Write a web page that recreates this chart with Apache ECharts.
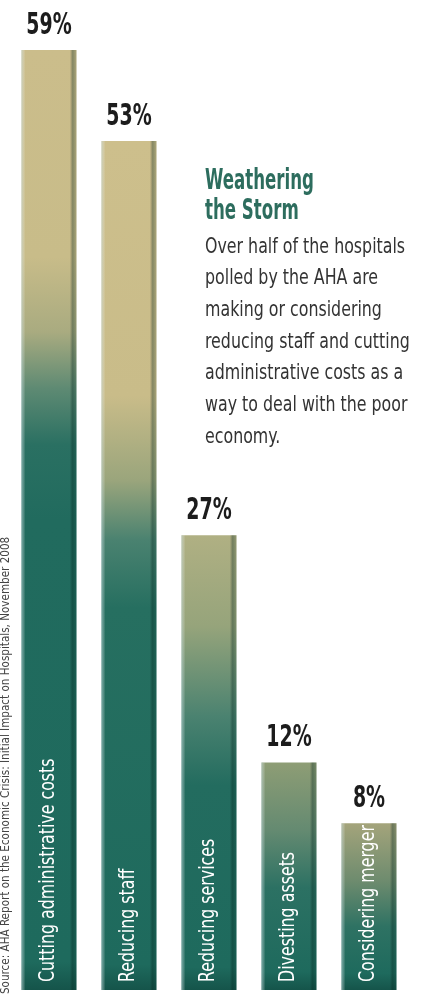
<!DOCTYPE html>
<html>
<head>
<meta charset="utf-8">
<script src="https://cdn.jsdelivr.net/npm/echarts@6/dist/echarts.min.js"></script>
<style>
  html, body { margin: 0; padding: 0; background: #ffffff; }
  #chart { width: 425px; height: 996px; }
</style>
</head>
<body>
<div id="chart"></div>
<script>
// ---- data ----
const categories = ['Cutting administrative costs', 'Reducing staff', 'Reducing services', 'Divesting assets', 'Considering merger'];
const values = [59, 53, 27, 12, 8];
const titleLines = ['Weathering', 'the Storm'];
const bodyLines = [
  'Over half of the hospitals',
  'polled by the AHA are',
  'making or considering',
  'reducing staff and cutting',
  'administrative costs as a',
  'way to deal with the poor',
  'economy.'
];
const sourceText = 'Source: AHA Report on the Economic Crisis: Initial Impact on Hospitals, November 2008';

// ---- axis / styles ----
const AXIS_MIN = -3, AXIS_MAX = 59;
const FONT = "'DejaVu Sans Condensed', 'DejaVu Sans', sans-serif";
const barStops = [
  [[0, '#cbbd8b'], [0.22, '#c8bc89'], [0.3, '#a9ab80'], [0.36, '#5e8a73'], [0.42, '#2a7062'], [0.5, '#216b5e'], [0.97, '#1e6a5d'], [1, '#15544a']],
  [[0, '#cdbf8c'], [0.3, '#c9bc89'], [0.4, '#9aa57c'], [0.47, '#4a8270'], [0.55, '#266f60'], [0.97, '#1e6a5d'], [1, '#15544a']],
  [[0, '#b0b083'], [0.2, '#96a47b'], [0.4, '#4a8270'], [0.55, '#236c5f'], [0.95, '#1e6a5d'], [1, '#15544a']],
  [[0, '#8e9d75'], [0.3, '#648a71'], [0.55, '#2c7163'], [0.92, '#1e6a5d'], [1, '#15544a']],
  [[0, '#a4a47b'], [0.35, '#6d8b6e'], [0.62, '#2e7263'], [0.9, '#1e6a5d'], [1, '#15544a']]
];
function vGrad(stops) {
  return new echarts.graphic.LinearGradient(0, 0, 0, 1, stops.map(s => ({ offset: s[0], color: s[1] })));
}
const edgeGrad = new echarts.graphic.LinearGradient(0, 0, 1, 0, [
  { offset: 0, color: 'rgba(190,215,220,0.55)' },
  { offset: 0.07, color: 'rgba(255,255,255,0)' },
  { offset: 0.88, color: 'rgba(0,0,0,0)' },
  { offset: 0.93, color: 'rgba(0,35,28,0.35)' },
  { offset: 1, color: 'rgba(0,35,28,0.15)' }
]);

const chart = echarts.init(document.getElementById('chart'), null, { renderer: 'canvas' });
const option = {
  animation: false,
  backgroundColor: '#ffffff',
  grid: { left: 9, right: 16, top: 50, bottom: 6 },
  xAxis: {
    type: 'category',
    data: categories,
    axisLine: { show: false }, axisTick: { show: false }, axisLabel: { show: false }, splitLine: { show: false }
  },
  yAxis: {
    type: 'value', min: AXIS_MIN, max: AXIS_MAX, startValue: AXIS_MIN,
    axisLine: { show: false }, axisTick: { show: false }, axisLabel: { show: false }, splitLine: { show: false }
  },
  series: [
    {
      type: 'bar',
      barWidth: 55,
      data: values.map((v, i) => ({ value: v, itemStyle: { color: vGrad(barStops[i]) } })),
      z: 2
    },
    {
      type: 'bar',
      barWidth: 55,
      barGap: '-100%',
      data: values,
      itemStyle: { color: edgeGrad },
      z: 3
    },
    {
      // value labels above bars
      type: 'custom',
      coordinateSystem: 'cartesian2d',
      data: values.map((v, i) => [i, v]),
      encode: { x: 0, y: 1 },
      z: 5,
      silent: true,
      renderItem: (params, api) => {
        const p = api.coord([api.value(0), api.value(1)]);
        return {
          type: 'text', x: p[0], y: p[1] - 9, scaleX: 0.68,
          style: {
            text: api.value(1) + '%', align: 'center', verticalAlign: 'bottom',
            fontFamily: FONT, fontWeight: 'bold', fontSize: 31, fill: '#1c1c1c'
          }
        };
      }
    },
    {
      // category names written up the bars
      type: 'custom',
      coordinateSystem: 'cartesian2d',
      data: values.map((v, i) => [i, v]),
      encode: { x: 0, y: 1 },
      z: 5,
      silent: true,
      renderItem: (params, api) => {
        const idx = api.value(0);
        const p = api.coord([idx, AXIS_MIN]);
        return {
          type: 'text', x: p[0] - 1, y: p[1] - 8, rotation: Math.PI / 2, scaleX: 0.8,
          style: {
            text: categories[idx], align: 'left', verticalAlign: 'middle',
            fontFamily: FONT, fontSize: 22, fill: '#ffffff'
          }
        };
      }
    }
  ],
  graphic: [
    {
      type: 'text', x: 205, y: 167, scaleX: 0.66,
      style: {
        text: titleLines.join('\n'), fontFamily: FONT, fontWeight: 'bold',
        fontSize: 28, lineHeight: 30, fill: '#2d6d5e'
      }
    },
    {
      type: 'text', x: 205, y: 231, scaleX: 0.8,
      style: {
        text: bodyLines.join('\n'), fontFamily: FONT,
        fontSize: 22, lineHeight: 31.7, fill: '#333333'
      }
    },
    {
      type: 'text', x: -1, y: 994, rotation: Math.PI / 2, scaleX: 0.89,
      style: {
        text: sourceText, fontFamily: FONT, fontSize: 13,
        fill: '#444444', align: 'left', verticalAlign: 'top'
      }
    }
  ]
};
chart.setOption(option);
</script>
</body>
</html>
